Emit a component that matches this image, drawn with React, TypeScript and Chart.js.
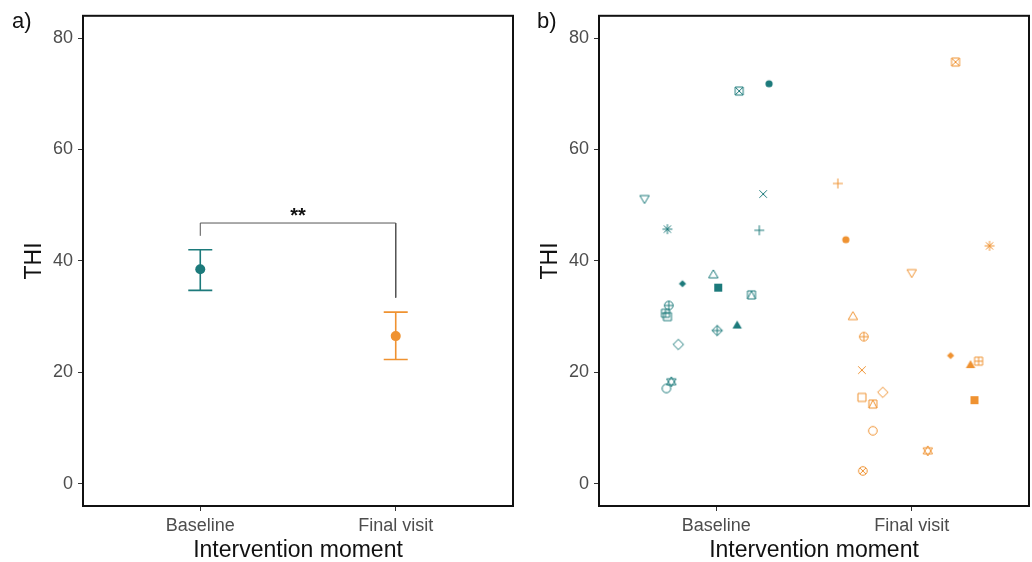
import React, { useEffect, useRef } from 'react';
import { Chart, registerables } from 'chart.js';

Chart.register(...registerables);

// ---------- data ----------
const categories = ['Baseline', 'Final visit'];
const yTicks = [0, 20, 40, 60, 80];

// panel a: means with confidence intervals
const meanTHI = [38.5, 26.5];
const ciLower = [34.7, 22.3];
const ciUpper = [42.0, 30.8];
// significance bracket (x = category index + 1)
const bracketX = [1, 1, 2, 2];
const bracketY = [44.5, 46.8, 46.8, 33.4];
const sigLabel = '**';

// panel b: individual patients (ggplot shape codes)
const baselineShapes = [16, 7, 6, 4, 8, 3, 18, 2, 15, 14, 10, 12, 0, 9, 17, 5, 1, 11];
const baselineX = [1.27, 1.117, 0.633, 1.24, 0.75, 1.22, 0.827, 0.985, 1.01, 1.18, 0.757, 0.74, 0.75, 1.005, 1.107, 0.806, 0.745, 0.77];
const baselineY = [71.8, 70.5, 51.2, 52.0, 45.7, 45.5, 35.9, 37.5, 35.2, 33.9, 32.0, 30.6, 30.0, 27.5, 28.4, 25.0, 17.1, 18.3];

const finalShapes = [7, 3, 16, 8, 6, 2, 10, 18, 17, 12, 4, 5, 0, 14, 15, 1, 11, 13];
const finalX = [2.224, 1.622, 1.663, 2.398, 2.0, 1.699, 1.755, 2.199, 2.301, 2.342, 1.745, 1.852, 1.745, 1.801, 2.321, 1.801, 2.082, 1.75];
const finalY = [75.7, 53.9, 43.8, 42.7, 37.9, 30.0, 26.4, 23.0, 21.3, 22.0, 20.4, 16.4, 15.5, 14.3, 15.0, 9.5, 5.9, 2.3];

// ---------- style ----------
const TEAL = '#1C7A7B';
const ORANGE = '#EF9231';
const FONT = "'Liberation Sans', Arial, Helvetica, sans-serif";
const TICK_COLOR = '#4D4D4D';

function makeShape(shape: number, color: string): HTMLCanvasElement {
  const size = 14;
  const cv = document.createElement('canvas');
  cv.width = size;
  cv.height = size;
  const ctx = cv.getContext('2d')!;
  const c = size / 2;
  ctx.strokeStyle = color;
  ctx.fillStyle = color;
  ctx.lineWidth = 1;
  const h = 4; // half side
  const r = 4.3;
  const sq = () => { ctx.beginPath(); ctx.rect(c - h, c - h, 2 * h, 2 * h); ctx.stroke(); };
  const circ = () => { ctx.beginPath(); ctx.arc(c, c, r, 0, Math.PI * 2); ctx.stroke(); };
  const tri = (up: boolean, fill = false) => {
    const d = up ? 1 : -1;
    ctx.beginPath();
    ctx.moveTo(c, c - 5 * d);
    ctx.lineTo(c - 4.7, c + 3 * d);
    ctx.lineTo(c + 4.7, c + 3 * d);
    ctx.closePath();
    fill ? ctx.fill() : ctx.stroke();
  };
  const dia = (rr: number, fill = false) => {
    ctx.beginPath();
    ctx.moveTo(c, c - rr); ctx.lineTo(c + rr, c); ctx.lineTo(c, c + rr); ctx.lineTo(c - rr, c); ctx.closePath();
    fill ? ctx.fill() : ctx.stroke();
  };
  const plus = (l: number) => { ctx.beginPath(); ctx.moveTo(c - l, c); ctx.lineTo(c + l, c); ctx.moveTo(c, c - l); ctx.lineTo(c, c + l); ctx.stroke(); };
  const cross = (l: number) => { ctx.beginPath(); ctx.moveTo(c - l, c - l); ctx.lineTo(c + l, c + l); ctx.moveTo(c - l, c + l); ctx.lineTo(c + l, c - l); ctx.stroke(); };
  switch (shape) {
    case 0: sq(); break;
    case 1: circ(); break;
    case 2: tri(true); break;
    case 3: plus(5); break;
    case 4: cross(3.8); break;
    case 5: dia(5.2); break;
    case 6: tri(false); break;
    case 7: sq(); cross(h); break;
    case 8: plus(5); cross(3.6); break;
    case 9: dia(5.2); plus(5.2); break;
    case 10: circ(); plus(r); break;
    case 11: tri(true); tri(false); break;
    case 12: sq(); plus(h); break;
    case 13: circ(); cross(3); break;
    case 14: sq(); ctx.beginPath(); ctx.moveTo(c - h, c + h); ctx.lineTo(c, c - h); ctx.lineTo(c + h, c + h); ctx.stroke(); break;
    case 15: ctx.fillRect(c - h, c - h, 2 * h, 2 * h); break;
    case 16: ctx.beginPath(); ctx.arc(c, c, 3.6, 0, Math.PI * 2); ctx.fill(); break;
    case 17: tri(true, true); break;
    case 18: dia(3.6, true); break;
  }
  return cv;
}

function makeOptions(): any {
  const tickFont = { family: FONT, size: 18 };
  const titleFont = { family: FONT, size: 23, lineHeight: 1.0 };
  const grid = { drawOnChartArea: false, drawTicks: true, tickLength: 5, color: '#333333', lineWidth: 1 };
  return {
    responsive: false,
    animation: false,
    events: [],
    layout: { autoPadding: false, padding: { top: 13, right: 3, left: 0, bottom: 0 } },
    plugins: { legend: { display: false }, tooltip: { enabled: false } },
    scales: {
      x: {
        type: 'linear',
        min: 0.4,
        max: 2.6,
        afterBuildTicks: (s: any) => { s.ticks = categories.map((_, i) => ({ value: i + 1 })); },
        afterFit: (s: any) => { s.height = 56; },
        ticks: {
          callback: (v: number) => categories[Math.round(v) - 1] ?? '',
          color: TICK_COLOR, font: tickFont, padding: 4, maxRotation: 0, autoSkip: false,
        },
        grid,
        border: { display: false },
        title: { display: true, text: 'Intervention moment', color: '#111', font: titleFont, padding: { top: 0, bottom: 0 } },
      },
      y: {
        type: 'linear',
        min: -4,
        max: 84,
        afterBuildTicks: (s: any) => { s.ticks = yTicks.map((v) => ({ value: v })); },
        afterFit: (s: any) => { s.width = 83; },
        ticks: { color: TICK_COLOR, font: tickFont, padding: 5 },
        grid,
        border: { display: false },
        title: { display: true, text: 'THI', color: '#111', font: titleFont, padding: { top: 23, bottom: 0 } },
      },
    },
  };
}

function framePlugin(label: string, labelX: number) {
  return {
    id: 'frame_' + label,
    afterDraw(chart: any) {
      const { ctx, chartArea: a } = chart;
      ctx.save();
      ctx.strokeStyle = '#111';
      ctx.lineWidth = 2;
      ctx.strokeRect(a.left, a.top, a.right - a.left, a.bottom - a.top);
      ctx.fillStyle = '#111';
      ctx.font = `22px ${FONT}`;
      ctx.textBaseline = 'middle';
      ctx.textAlign = 'left';
      ctx.fillText(label, labelX, 22);
      ctx.restore();
    },
  };
}

const errorBarPlugin = {
  id: 'errorBars',
  beforeDatasetsDraw(chart: any) {
    const { ctx, scales } = chart;
    const colors = [TEAL, ORANGE];
    ctx.save();
    ctx.lineWidth = 1.6;
    categories.forEach((_, i) => {
      const x = scales.x.getPixelForValue(i + 1);
      const lo = scales.y.getPixelForValue(ciLower[i]);
      const hi = scales.y.getPixelForValue(ciUpper[i]);
      ctx.strokeStyle = colors[i];
      ctx.beginPath();
      ctx.moveTo(x, lo); ctx.lineTo(x, hi);
      ctx.moveTo(x - 12, lo); ctx.lineTo(x + 12, lo);
      ctx.moveTo(x - 12, hi); ctx.lineTo(x + 12, hi);
      ctx.stroke();
    });
    // significance label
    const mx = scales.x.getPixelForValue((bracketX[1] + bracketX[2]) / 2);
    const my = scales.y.getPixelForValue(bracketY[1]);
    ctx.fillStyle = '#111';
    ctx.font = `bold 20px ${FONT}`;
    ctx.textAlign = 'center';
    ctx.textBaseline = 'alphabetic';
    ctx.fillText(sigLabel, mx, my - 1);
    ctx.restore();
  },
};

export default function App() {
  const refA = useRef<HTMLCanvasElement>(null);
  const refB = useRef<HTMLCanvasElement>(null);

  useEffect(() => {
    const chartA = new Chart(refA.current!, {
      type: 'scatter',
      data: {
        datasets: [
          {
            data: bracketX.map((x, i) => ({ x, y: bracketY[i] })),
            showLine: true,
            borderColor: '#555555',
            borderWidth: 1,
            pointRadius: 0,
          } as any,
          {
            data: meanTHI.map((y, i) => ({ x: i + 1, y })),
            backgroundColor: [TEAL, ORANGE],
            borderWidth: 0,
            pointRadius: 5,
          },
        ],
      },
      options: makeOptions(),
      plugins: [errorBarPlugin, framePlugin('a)', 12)],
    });

    const chartB = new Chart(refB.current!, {
      type: 'scatter',
      data: {
        datasets: [
          {
            data: baselineX.map((x, i) => ({ x, y: baselineY[i] })),
            pointStyle: baselineShapes.map((s) => makeShape(s, TEAL)) as any,
            pointRadius: 6,
          },
          {
            data: finalX.map((x, i) => ({ x, y: finalY[i] })),
            pointStyle: finalShapes.map((s) => makeShape(s, ORANGE)) as any,
            pointRadius: 6,
          },
        ],
      },
      options: makeOptions(),
      plugins: [framePlugin('b)', 21)],
    });

    return () => {
      chartA.destroy();
      chartB.destroy();
    };
  }, []);

  return (
    <div style={{ position: 'absolute', left: 0, top: 0, width: 1032, height: 562, background: '#fff' }}>
      <canvas ref={refA} width={516} height={562} style={{ position: 'absolute', left: 0, top: 0 }} />
      <canvas ref={refB} width={516} height={562} style={{ position: 'absolute', left: 516, top: 0 }} />
    </div>
  );
}
